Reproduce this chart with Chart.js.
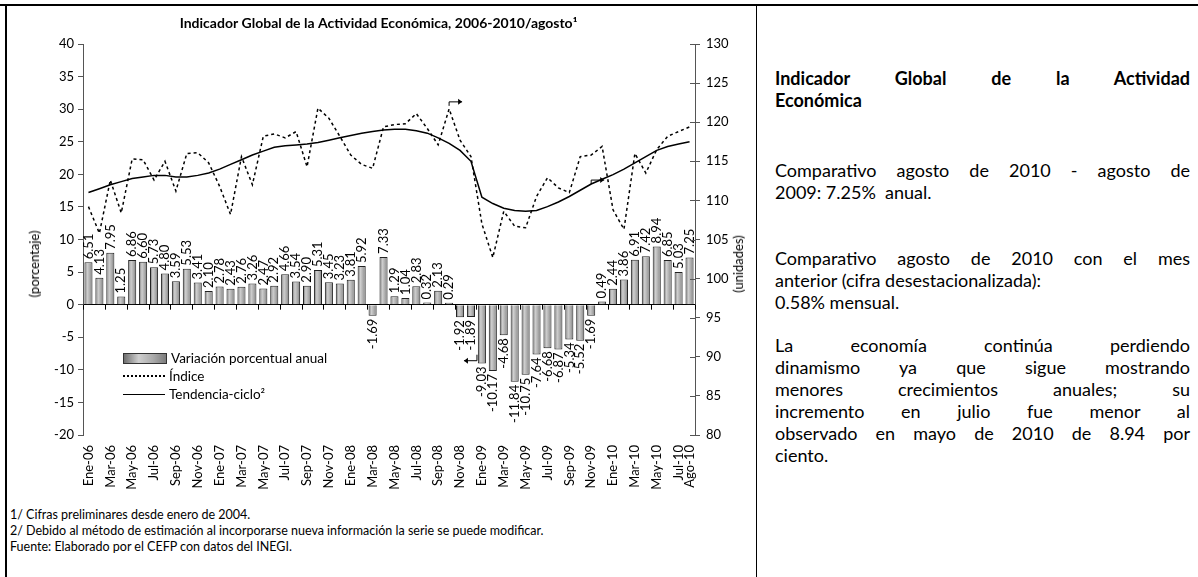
<!DOCTYPE html>
<html>
<head>
<meta charset="utf-8">
<script src="https://cdn.jsdelivr.net/npm/chart.js@4.4.0/dist/chart.umd.min.js"></script>
<style>
body{margin:0;width:1198px;height:577px;position:relative;background:#fff;font-family:Lato,"Open Sans",sans-serif;overflow:hidden;color:#000}
#box{position:absolute;left:0;top:0;width:757px;height:510px}
.line{position:absolute;background:#000}
.foot{position:absolute;left:10px;font-size:12.5px;line-height:16px;white-space:nowrap}
.ytitle{position:absolute;font-size:13px;transform:translate(-50%,-50%) rotate(-90deg);white-space:nowrap}
#legend{position:absolute;left:123px;top:349px;font-size:13.5px}
#legend div{height:18px;display:flex;align-items:center}
#legend span.sw{display:inline-block;width:42px;margin-right:4px}
#panel div{position:absolute;left:775px;width:415px;font-size:18px;line-height:22px;text-align:justify;text-align-last:justify;white-space:nowrap}
#panel div.l{text-align-last:left}
</style>
</head>
<body>
<div id="box"><canvas id="myChart1"></canvas></div>

<div class="line" style="left:0;top:4px;width:1198px;height:2px"></div>
<div class="line" style="left:5px;top:4px;width:2px;height:573px"></div>
<div class="line" style="left:756px;top:4px;width:1px;height:573px"></div>

<div class="ytitle" style="left:34px;top:264px">(porcentaje)</div>
<div class="ytitle" style="left:738px;top:264px">(unidades)</div>

<div id="legend">
  <div><span class="sw" style="height:9px;border:1px solid #333;background:linear-gradient(90deg,#6e6e6e,#cfcfcf 35%,#a9a9a9 70%,#7c7c7c)"></span>Variación porcentual anual</div>
  <div><span class="sw" style="border-top:2px dotted #000"></span>Índice</div>
  <div><span class="sw" style="border-top:1.5px solid #000"></span>Tendencia-ciclo²</div>
</div>

<div class="foot" style="top:507px">1/ Cifras preliminares desde enero de 2004.</div>
<div class="foot" style="top:523px">2/ Debido al método de estimación al incorporarse nueva información la serie se puede modificar.</div>
<div class="foot" style="top:539px">Fuente: Elaborado por el CEFP con datos del INEGI.</div>

<div id="panel">
  <div style="top:67px;font-weight:bold">Indicador Global de la Actividad</div>
  <div class="l" style="top:89px;font-weight:bold">Económica</div>
  <div style="top:159px">Comparativo agosto de 2010 - agosto de</div>
  <div class="l" style="top:181px">2009: 7.25%&nbsp; anual.</div>
  <div style="top:247px">Comparativo agosto de 2010 con el mes</div>
  <div class="l" style="top:269px">anterior (cifra desestacionalizada):</div>
  <div class="l" style="top:291px">0.58% mensual.</div>
  <div style="top:334px">La economía continúa perdiendo</div>
  <div style="top:356px">dinamismo ya que sigue mostrando</div>
  <div style="top:378px">menores crecimientos anuales; su</div>
  <div style="top:400px">incremento en julio fue menor al</div>
  <div style="top:422px">observado en mayo de 2010 de 8.94 por</div>
  <div class="l" style="top:444px">ciento.</div>
</div>

<script>
// meses Ene-06 .. Ago-10
let labels = [
	'Ene-06','Feb-06','Mar-06','Abr-06','May-06','Jun-06','Jul-06','Ago-06','Sep-06','Oct-06','Nov-06','Dic-06',
	'Ene-07','Feb-07','Mar-07','Abr-07','May-07','Jun-07','Jul-07','Ago-07','Sep-07','Oct-07','Nov-07','Dic-07',
	'Ene-08','Feb-08','Mar-08','Abr-08','May-08','Jun-08','Jul-08','Ago-08','Sep-08','Oct-08','Nov-08','Dic-08',
	'Ene-09','Feb-09','Mar-09','Abr-09','May-09','Jun-09','Jul-09','Ago-09','Sep-09','Oct-09','Nov-09','Dic-09',
	'Ene-10','Feb-10','Mar-10','Abr-10','May-10','Jun-10','Jul-10','Ago-10'
];

// variación porcentual anual (eje izq.)
let variacion = [
	6.51,4.13,7.95,1.25,6.86,6.60,5.73,4.80,3.59,5.53,3.41,2.10,
	2.78,2.43,2.76,3.26,2.47,2.92,4.66,3.54,2.90,5.31,3.45,3.23,
	3.81,5.92,-1.69,7.33,1.29,1.04,2.83,0.32,2.13,0.29,-1.92,-1.89,
	-9.03,-10.17,-4.68,-11.84,-10.75,-7.64,-6.68,-6.87,-5.34,-5.52,-1.69,0.49,
	2.44,3.86,6.91,7.42,8.94,6.85,5.03,7.25
];

// índice (eje der.)
let indice = [
	109.2,105.8,112.6,108.4,115.3,115.2,112.6,115.0,111.2,116.0,116.1,114.8,
	111.8,108.2,115.6,112.0,118.2,118.5,118.0,118.8,114.3,121.8,120.5,118.2,
	115.8,114.6,114.1,119.4,119.7,119.8,121.1,119.2,117.1,121.7,117.7,115.6,
	107.0,102.7,108.6,106.7,106.5,110.5,112.9,111.6,111.0,115.6,115.8,116.9,
	108.8,106.3,116.0,113.5,116.5,118.2,118.8,119.4
];

// tendencia-ciclo (eje der.)
let tendencia = [
	111.0,111.5,112.0,112.4,112.8,113.0,113.2,113.2,113.0,113.0,113.2,113.5,
	114.0,114.6,115.2,115.8,116.3,116.8,117.0,117.1,117.2,117.4,117.7,118.0,
	118.3,118.6,118.8,119.0,119.1,119.1,118.9,118.6,118.0,117.3,116.4,115.0,
	110.4,109.6,109.0,108.7,108.6,108.7,109.2,109.8,110.5,111.3,112.1,112.7,
	113.3,114.0,114.8,115.6,116.4,116.9,117.2,117.5
];

// flechas: [indice mes, valor, eje, dirección]
let flechas = [
	[33, 122.6, 'y2', 1],
	[46, 112.6, 'y2', 1],
	[35, -8.6, 'y', -1]
];

const font = 'Lato';
const barPct = 0.74;

function barFill(c){
	let chart = c.chart;
	if(!chart.chartArea) return '#aaa';
	let xs = chart.scales.x;
	let w = xs.width / labels.length * barPct;
	let x = xs.getPixelForValue(c.dataIndex);
	let g = chart.ctx.createLinearGradient(x - w/2, 0, x + w/2, 0);
	g.addColorStop(0, '#6e6e6e');
	g.addColorStop(0.35, '#cfcfcf');
	g.addColorStop(0.7, '#a9a9a9');
	g.addColorStop(1, '#7c7c7c');
	return g;
}

//etiquetas de las barras, marcas del eje en cero y flechas
const extras = {
	id: 'extras',
	afterDatasetsDraw(chart){
		let ctx = chart.ctx;
		let meta = chart.getDatasetMeta(2);
		ctx.save();
		ctx.font = '13px ' + font;
		ctx.fillStyle = '#000';
		ctx.textBaseline = 'middle';
		meta.data.forEach((bar, i) => {
			let v = variacion[i];
			ctx.save();
			ctx.translate(bar.x, bar.y);
			ctx.rotate(-Math.PI/2);
			if(v >= 0){ ctx.textAlign = 'left'; ctx.fillText(v.toFixed(2), 3, 0); }
			else { ctx.textAlign = 'right'; ctx.fillText(v.toFixed(2), -3, 0); }
			ctx.restore();
		});

		// marcas en la línea del cero
		let xs = chart.scales.x;
		let y0 = chart.scales.y.getPixelForValue(0);
		let step = xs.width / labels.length;
		ctx.strokeStyle = '#000';
		ctx.lineWidth = 1;
		ctx.beginPath();
		for(let i = 0; i <= labels.length; i += 2){
			let px = Math.round(xs.left + i * step) + 0.5;
			ctx.moveTo(px, y0);
			ctx.lineTo(px, y0 + 5);
		}
		ctx.stroke();

		// marcas interiores del eje derecho (cruzan el eje)
		let y2 = chart.scales.y2;
		ctx.strokeStyle = '#555';
		ctx.beginPath();
		y2.ticks.forEach(t => {
			let py = Math.round(y2.getPixelForValue(t.value)) + 0.5;
			ctx.moveTo(y2.left - 5, py);
			ctx.lineTo(y2.left, py);
		});
		ctx.stroke();

		// flechas
		ctx.strokeStyle = '#000';
		flechas.forEach(f => {
			let px = xs.getPixelForValue(f[0]);
			let py = chart.scales[f[2]].getPixelForValue(f[1]);
			let len = 13 * f[3];
			ctx.beginPath();
			if(f[3] > 0){ ctx.moveTo(px, py + 4); ctx.lineTo(px, py); }
			else { ctx.moveTo(px + 6, py - 6); ctx.lineTo(px + 6, py); px = px + 6; }
			ctx.lineTo(px + len, py);
			ctx.stroke();
			ctx.beginPath();
			ctx.moveTo(px + len, py);
			ctx.lineTo(px + len - 4 * f[3], py - 3);
			ctx.lineTo(px + len - 4 * f[3], py + 3);
			ctx.closePath();
			ctx.fillStyle = '#000';
			ctx.fill();
		});
		ctx.restore();
	}
};

Chart.defaults.font.family = font;
Chart.defaults.color = '#000';

const data = {
	labels: labels,
	datasets: [{
		type: 'line',
		label: 'Índice',
		data: indice,
		yAxisID: 'y2',
		borderColor: '#000',
		borderWidth: 1.5,
		borderDash: [3, 3],
		pointRadius: 0,
		order: 1
	}, {
		type: 'line',
		label: 'Tendencia-ciclo',
		data: tendencia,
		yAxisID: 'y2',
		borderColor: '#000',
		borderWidth: 1.5,
		pointRadius: 0,
		order: 2
	}, {
		type: 'bar',
		label: 'Variación porcentual anual',
		data: variacion,
		yAxisID: 'y',
		backgroundColor: barFill,
		borderColor: '#222',
		borderWidth: 1,
		barPercentage: barPct,
		categoryPercentage: 1,
		order: 3
	}]
};

const config = {
	type: 'bar',
	data: data,
	options: {
		responsive: false,
		animation: false,
		layout: {padding: 0},
		plugins: {
			legend: {display: false},
			tooltip: {enabled: false},
			title: {
				display: true,
				text: 'Indicador Global de la Actividad Económica, 2006-2010/agosto¹',
				font: {size: 14, weight: 'bold', lineHeight: 1.2},
				padding: {top: 15, bottom: 12.2}
			}
		},
		scales: {
			x: {
				grid: {display: false},
				border: {display: false},
				ticks: {
					autoSkip: false,
					maxRotation: 90,
					minRotation: 90,
					padding: 2,
					font: {size: 13},
					callback: function(v, i){ return (i % 2 == 0 || i == labels.length - 1) ? labels[i] : ''; }
				},
				afterFit: function(s){ s.height = 70; }
			},
			y: {
				position: 'left',
				min: -20, max: 40,
				ticks: {stepSize: 5, font: {size: 13}, padding: 4},
				grid: {
					color: c => c.tick && c.tick.value == 0 ? '#000' : 'rgba(0,0,0,0)',
					tickColor: '#555',
					tickLength: 5
				},
				border: {display: true, color: '#555'},
				afterFit: function(s){ s.width = 83; }
			},
			y2: {
				position: 'right',
				min: 80, max: 130,
				ticks: {stepSize: 5, font: {size: 13}, padding: 6},
				grid: {drawOnChartArea: false, tickColor: '#555', tickLength: 5},
				border: {display: true, color: '#555'},
				afterFit: function(s){ s.width = 62; }
			}
		}
	},
	plugins: [extras]
};

const cv = document.getElementById('myChart1');
cv.width = 757; cv.height = 505;
let myChart1 = new Chart(cv, config);
</script>
</body>
</html>
